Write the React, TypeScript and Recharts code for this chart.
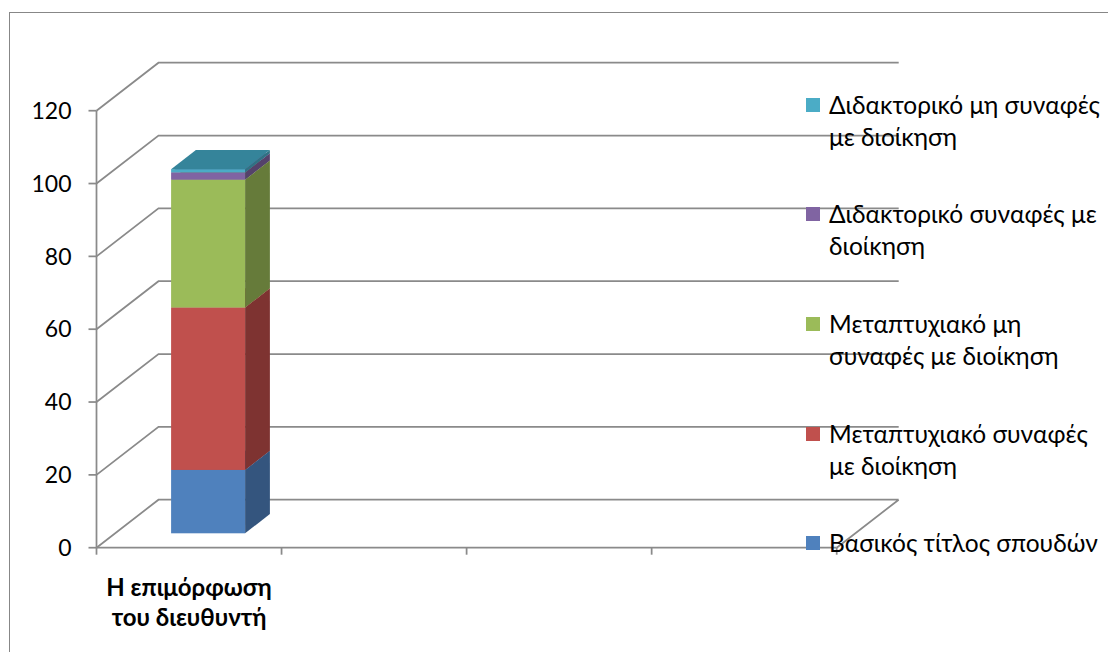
import React from "react"
import { BarChart, Bar, XAxis, YAxis, CartesianGrid } from "recharts"

// categories (only the first one holds data, the rest are empty slots on the axis)
const categories = ["Η επιμόρφωση\nτου διευθυντή", "", "", ""]

// legend labels keep their line breaks
const seriesNames = [
  "Βασικός τίτλος σπουδών",
  "Μεταπτυχιακό συναφές\nμε διοίκηση",
  "Μεταπτυχιακό μη\nσυναφές με διοίκηση",
  "Διδακτορικό συναφές με\nδιοίκηση",
  "Διδακτορικό μη συναφές\nμε διοίκηση",
]

const basicDegree = [17.4, null, null, null]
const masterRelated = [44.6, null, null, null]
const masterUnrelated = [35.1, null, null, null]
const phdRelated = [2.0, null, null, null]
const phdUnrelated = [0.9, null, null, null]

const yTicks = [0, 20, 40, 60, 80, 100, 120]

const seriesValues = [basicDegree, masterRelated, masterUnrelated, phdRelated, phdUnrelated]
const seriesKeys = ["s0", "s1", "s2", "s3", "s4"]

const frontColors = ["#4F81BD", "#C0504D", "#9BBB59", "#8064A2", "#4BACC6"]
const sideColors = ["#34557E", "#7E3331", "#667B3A", "#54426B", "#2F7284"]
const topColors = ["#4474AD", "#B04845", "#8DAB50", "#735A93", "#35849A"]

const data = categories.map((name, i) => {
  const row: Record<string, any> = { name }
  seriesKeys.forEach((k, s) => {
    row[k] = seriesValues[s][i]
  })
  return row
})

// oblique projection of the floor/walls
const DX = 62
const DY = 48
const BAR_FRONT = 0.3
const BAR_DEPTH = 0.4

const FONT = "Lato, 'Noto Sans', sans-serif"
const GRID = "#8a8a8a"

const W = 1108
const H = 652
const PLOT_LEFT = 96.5
const PLOT_RIGHT = 836.7
const PLOT_TOP = 110.7
const PLOT_BOTTOM = 547.7
const X_AXIS_H = 90
const Y_AXIS_W = 80

function Box3D(props: any) {
  const { x, y, width, height, s } = props
  if (height == null || height <= 0 || x == null) return null
  const fx = x + BAR_FRONT * DX
  const fy = y - BAR_FRONT * DY
  const dx = BAR_DEPTH * DX
  const dy = BAR_DEPTH * DY
  const r = fx + width
  const b = fy + height
  return (
    <g>
      <rect x={fx} y={fy} width={width} height={height} fill={frontColors[s]} />
      <path d={`M${r},${fy}L${r + dx},${fy - dy}L${r + dx},${b - dy}L${r},${b}Z`} fill={sideColors[s]} />
      <path d={`M${fx},${fy}L${r},${fy}L${r + dx},${fy - dy}L${fx + dx},${fy - dy}Z`} fill={topColors[s]} />
    </g>
  )
}

// each horizontal grid line runs from the front axis back to the rear wall
function WallLine(props: any) {
  const { x1, y1, x2, index } = props
  const d = `M${x1},${y1}L${x1 + DX},${y1 - DY}L${x2 + DX},${y1 - DY}`
  const floorEdge = Math.abs(y1 - PLOT_BOTTOM) < 1 ? `M${x2},${y1}L${x2 + DX},${y1 - DY}` : ""
  return <path key={`wall-${index}`} d={d + floorEdge} stroke={GRID} strokeWidth={1.75} fill="none" />
}

function CategoryTick(props: any) {
  const { x, y, payload, index } = props
  const half = payload.offset || 0
  const lines = String(payload.value).split("\n").filter((l) => l)
  return (
    <g>
      <line x1={x - half} y1={y} x2={x - half} y2={y + 7} stroke={GRID} strokeWidth={1.75} />
      {index === categories.length - 1 && (
        <line x1={x + half} y1={y} x2={x + half} y2={y + 7} stroke={GRID} strokeWidth={1.75} />
      )}
      {lines.map((l, i) => (
        <text
          key={i}
          x={x}
          y={y + 39 + i * 30}
          textAnchor="middle"
          dominantBaseline="central"
          fontFamily={FONT}
          fontWeight="bold"
          fontSize={24}
          fill="#000"
        >
          {l}
        </text>
      ))}
    </g>
  )
}

function SideLegend() {
  const order = [4, 3, 2, 1, 0]
  return (
    <div style={{ position: "absolute", left: 806, top: 0, width: 300 }}>
      {order.map((s, i) => {
        const cy = 104.5 + i * 109.7
        return (
          <div key={s} style={{ position: "absolute", top: cy - 16, left: 0, display: "flex" }}>
            <div style={{ width: 14, height: 14, marginTop: 9, background: frontColors[s], flexShrink: 0 }} />
            <div
              style={{
                marginLeft: 9,
                width: 290,
                whiteSpace: "pre-line",
                fontFamily: FONT,
                fontSize: 24.5,
                lineHeight: "32px",
                color: "#000",
              }}
            >
              {seriesNames[s]}
            </div>
          </div>
        )
      })}
    </div>
  )
}

export default function App() {
  return (
    <div style={{ position: "absolute", left: 0, top: 0, width: W, height: H, overflow: "hidden", background: "#fff" }}>
      <div
        style={{
          position: "absolute",
          left: 9,
          top: 12,
          width: W,
          height: H,
          border: "1.5px solid #878787",
        }}
      />
      <div style={{ position: "absolute", left: 0, top: 0 }}>
        <BarChart
          width={W}
          height={H}
          data={data}
          barSize={74}
          margin={{
            top: PLOT_TOP,
            right: W - PLOT_RIGHT,
            bottom: H - PLOT_BOTTOM - X_AXIS_H,
            left: PLOT_LEFT - Y_AXIS_W,
          }}
        >
          <CartesianGrid vertical={false} horizontal={WallLine} />
          <XAxis
            dataKey="name"
            height={X_AXIS_H}
            axisLine={{ stroke: GRID, strokeWidth: 1.75 }}
            tickLine={false}
            tickSize={0}
            tickMargin={0}
            interval={0}
            tick={<CategoryTick />}
          />
          <YAxis
            width={Y_AXIS_W}
            domain={[0, 120]}
            ticks={yTicks}
            interval={0}
            axisLine={{ stroke: GRID, strokeWidth: 1.75 }}
            tickLine={{ stroke: GRID, strokeWidth: 1.75 }}
            tickSize={8}
            tickMargin={17}
            tick={{ fill: "#000", fontSize: 23, fontFamily: FONT }}
          />
          {seriesKeys.map((k, s) => (
            <Bar
              key={k}
              dataKey={k}
              name={seriesNames[s]}
              stackId="a"
              fill={frontColors[s]}
              isAnimationActive={false}
              shape={(p: any) => <Box3D {...p} s={s} />}
            />
          ))}
        </BarChart>
      </div>
      <SideLegend />
    </div>
  )
}
